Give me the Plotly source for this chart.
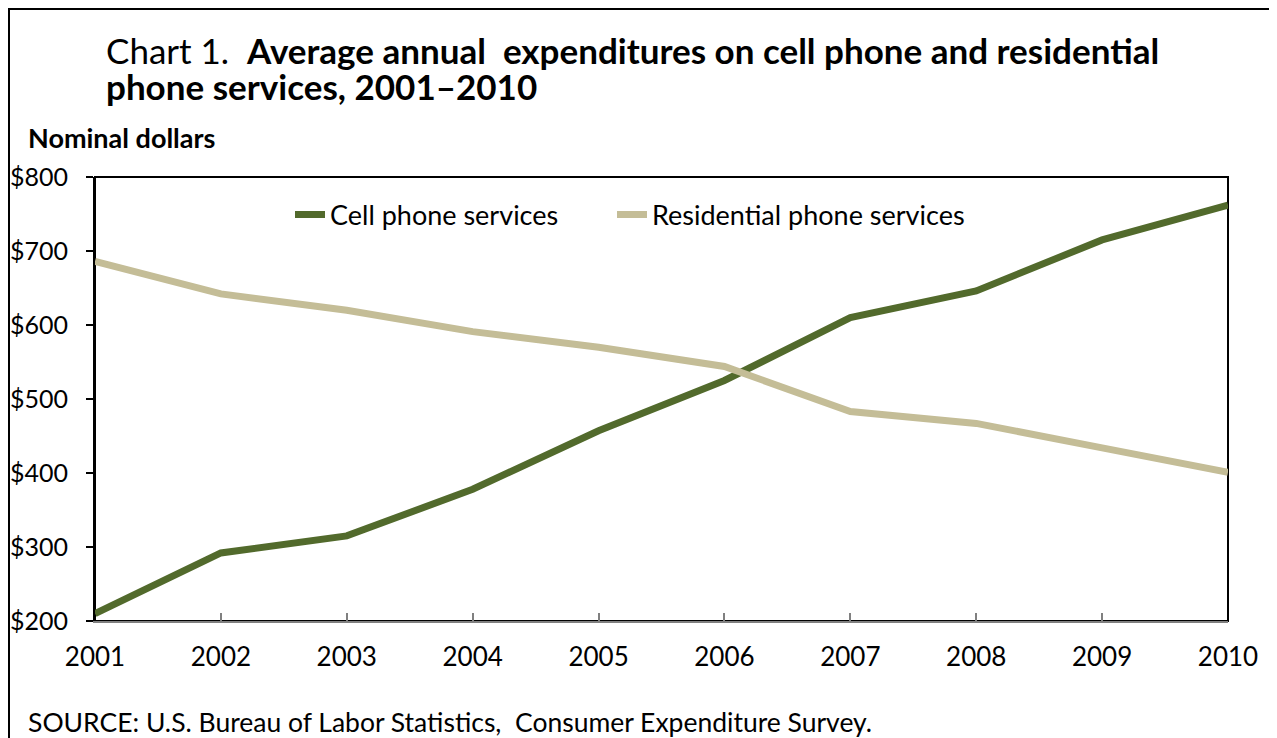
import plotly.graph_objects as go

years = [2001, 2002, 2003, 2004, 2005, 2006, 2007, 2008, 2009, 2010]
cell_phone = [210, 292, 315, 378, 457, 525, 610, 646, 715, 762]
residential = [686, 642, 620, 591, 570, 544, 483, 467, 434, 401]
y_ticks = [200, 300, 400, 500, 600, 700, 800]
y_tick_labels = ["$200", "$300", "$400", "$500", "$600", "$700", "$800"]

FONT = "Lato"
OFF = 8  # page body margin
W, H = 1277 - OFF, 738 - OFF
L, T = 95 - OFF, 177 - OFF
R = W - (1228 - OFF)
B = H - (621 - OFF)
PW, PH = W - L - R, H - T - B


def px_x(p):
    return (p - OFF - L) / PW


def px_y(p):
    return (H - B - (p - OFF)) / PH


fig = go.Figure()
fig.add_trace(go.Scatter(x=years, y=cell_phone, mode="lines", name="Cell phone services",
                         line=dict(color="#526A2C", width=7), legend="legend"))
fig.add_trace(go.Scatter(x=years, y=residential, mode="lines", name="Residential phone services",
                         line=dict(color="#C4BD97", width=7), legend="legend2"))

legend_common = dict(orientation="h", y=px_y(215), xanchor="left", yanchor="middle",
                     font=dict(size=27, family=FONT), bgcolor="rgba(0,0,0,0)")

fig.update_layout(
    width=W, height=H, autosize=False,
    margin=dict(l=L, r=R, t=T, b=B, autoexpand=False),
    paper_bgcolor="white", plot_bgcolor="white",
    font=dict(family=FONT, color="black", size=26),
    showlegend=True,
    legend=dict(x=px_x(290), **legend_common),
    legend2=dict(x=px_x(612), **legend_common),
    xaxis=dict(range=[2001, 2010], tickvals=years, ticktext=[str(y) for y in years],
               automargin=False,
               showgrid=False, zeroline=False, showline=True, linecolor="#808080", linewidth=2,
               ticks="inside", ticklen=8, tickcolor="#808080", tickwidth=1.5,
               tickfont=dict(size=26, family=FONT), ticklabelstandoff=12),
    yaxis=dict(range=[200, 800], tickvals=y_ticks, ticktext=y_tick_labels,
               automargin=False,
               showgrid=False, zeroline=False, showline=True, linecolor="black", linewidth=2,
               ticks="outside", ticklen=7, tickcolor="black", tickwidth=2,
               tickfont=dict(size=25, family=FONT), ticklabelstandoff=13),
    shapes=[
        dict(type="rect", xref="paper", yref="paper", x0=0, x1=1, y0=0, y1=1,
             line=dict(color="black", width=2), layer="below"),
        dict(type="rect", xref="paper", yref="paper", x0=px_x(OFF + 1), x1=px_x(1273), y0=px_y(760), y1=px_y(OFF + 1),
             line=dict(color="black", width=2), layer="below"),
    ],
    annotations=[
        dict(xref="paper", yref="paper", x=px_x(104), y=px_y(50), xanchor="left", yanchor="middle",
             align="left", showarrow=False,
             text="Chart 1.  <b>Average annual  expenditures on cell phone and residential</b>",
             font=dict(size=35, family=FONT)),
        dict(xref="paper", yref="paper", x=px_x(104), y=px_y(86), xanchor="left", yanchor="middle",
             align="left", showarrow=False,
             text="<b>phone services, 2001\u20132010</b>",
             font=dict(size=35, family=FONT)),
        dict(xref="paper", yref="paper", x=px_x(26), y=px_y(138), xanchor="left", yanchor="middle",
             showarrow=False, text="<b>Nominal dollars</b>", font=dict(size=27, family=FONT)),
        dict(xref="paper", yref="paper", x=px_x(26), y=px_y(722), xanchor="left", yanchor="middle",
             showarrow=False, text="SOURCE: U.S. Bureau of Labor Statistics,  Consumer Expenditure Survey.",
             font=dict(size=26.5, family=FONT)),
    ],
)

fig.write_html("out.html")
